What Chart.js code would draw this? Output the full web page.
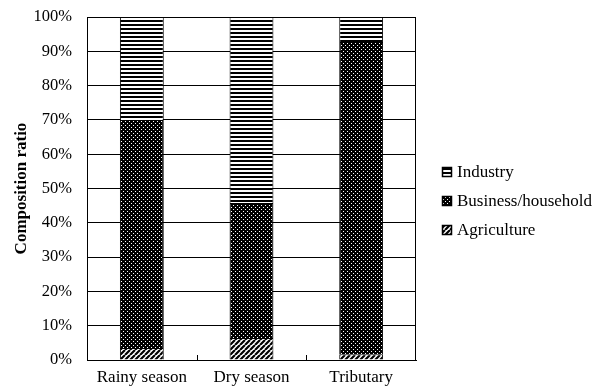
<!DOCTYPE html>
<html>
<head>
<meta charset="utf-8">
<script src="https://cdn.jsdelivr.net/npm/chart.js@4"></script>
<style>
  html, body { margin: 0; padding: 0; background: #fff; }
  #chart { display: block; }
</style>
</head>
<body>
<canvas id="chart" width="595" height="388"></canvas>
<script>
// Categories and series (percent of total)
const categories = ["Rainy season", "Dry season", "Tributary"];
const agriculture = [3.5, 6.4, 1.7];
const business = [66.5, 39.4, 91.0];
const industry = [30.0, 54.2, 7.3];
const yTicks = [0, 10, 20, 30, 40, 50, 60, 70, 80, 90, 100];

const FONT = "'Liberation Serif', 'Times New Roman', serif";

// ---- fill patterns ----
function makePattern(size, draw) {
  const c = document.createElement("canvas");
  c.width = size;
  c.height = size;
  const g = c.getContext("2d");
  draw(g, size);
  return g.createPattern(c, "repeat");
}

const ctx = document.getElementById("chart").getContext("2d");

// horizontal stripes
const stripePattern = makePattern(4, (g, s) => {
  g.fillStyle = "#fff";
  g.fillRect(0, 0, s, s);
  g.fillStyle = "#000";
  g.fillRect(0, 0, s, 2);
});

// dark with white dots
const dotPattern = makePattern(4, (g, s) => {
  g.fillStyle = "#000";
  g.fillRect(0, 0, s, s);
  g.fillStyle = "#fff";
  g.fillRect(1, 1, 1, 1);
  g.fillRect(3, 3, 1, 1);
});

// diagonal hatch
const hatchPattern = makePattern(5, (g, s) => {
  g.fillStyle = "#fff";
  g.fillRect(0, 0, s, s);
  g.strokeStyle = "#000";
  g.lineWidth = 2.2;
  g.beginPath();
  for (let k = -s; k <= 2 * s; k += s) {
    g.moveTo(k, s);
    g.lineTo(k + s, 0);
  }
  g.stroke();
});

// frame around the plot area + small inward ticks between categories
const framePlugin = {
  id: "frame",
  afterDatasetsDraw(chart) {
    const { ctx, chartArea: a, scales } = chart;
    const x = scales.x;
    ctx.save();
    ctx.strokeStyle = "#000";
    ctx.lineWidth = 1;
    ctx.strokeRect(a.left + 0.5, a.top + 0.5, a.right - a.left - 1, a.bottom - a.top);
    ctx.beginPath();
    for (let i = 1; i < categories.length; i++) {
      const px = Math.round((x.getPixelForTick(i) + x.getPixelForTick(i - 1)) / 2) + 0.5;
      ctx.moveTo(px, a.bottom);
      ctx.lineTo(px, a.bottom - 5);
    }
    ctx.stroke();
    ctx.restore();
  }
};

// legend to the right of the plot, top series first
const sideLegend = {
  id: "sideLegend",
  afterDraw(chart) {
    const { ctx, chartArea: a } = chart;
    const sets = chart.data.datasets.slice().reverse();
    const x0 = a.right + 26;
    const y0 = 172;
    const step = 29;
    ctx.save();
    ctx.font = "17px " + FONT;
    ctx.textBaseline = "middle";
    ctx.fillStyle = "#000";
    sets.forEach((ds, i) => {
      const cy = y0 + i * step;
      ctx.fillStyle = ds.backgroundColor;
      ctx.fillRect(x0, cy - 5, 10, 10);
      ctx.strokeStyle = "#000";
      ctx.lineWidth = 1.5;
      ctx.strokeRect(x0 + 0.5, cy - 4.5, 9, 9);
      ctx.fillStyle = "#000";
      ctx.fillText(ds.label, x0 + 15, cy + 1);
    });
    ctx.restore();
  }
};

new Chart(ctx, {
  type: "bar",
  data: {
    labels: categories,
    datasets: [
      { label: "Agriculture", data: agriculture, backgroundColor: hatchPattern },
      { label: "Business/household", data: business, backgroundColor: dotPattern },
      { label: "Industry", data: industry, backgroundColor: stripePattern }
    ]
  },
  options: {
    responsive: false,
    animation: false,
    layout: { padding: { top: 17, right: 179, bottom: 0, left: 13 } },
    datasets: {
      bar: {
        borderColor: "#000",
        borderWidth: 1,
        categoryPercentage: 1,
        barPercentage: 0.4
      }
    },
    scales: {
      x: {
        stacked: true,
        grid: { display: false },
        border: { color: "#000" },
        ticks: { color: "#000", font: { family: FONT, size: 17 }, padding: -1 },
        afterFit(scale) {
          scale.height = 28;
          scale.paddingLeft = 0;
          scale.paddingRight = 0;
        }
      },
      y: {
        stacked: true,
        min: 0,
        max: 100,
        afterBuildTicks(scale) {
          scale.ticks = yTicks.map(v => ({ value: v }));
        },
        afterFit(scale) {
          scale.width = 74;
          scale.paddingTop = 0;
          scale.paddingBottom = 0;
        },
        grid: { color: "#000", drawTicks: false },
        border: { color: "#000" },
        ticks: {
          color: "#000",
          font: { family: FONT, size: 16.5 },
          padding: 15,
          callback: v => v + "%"
        },
        title: {
          display: true,
          text: "Composition ratio",
          color: "#000",
          font: { family: FONT, size: 17, weight: "bold", lineHeight: 1 },
          padding: { top: 0, bottom: 4 }
        }
      }
    },
    plugins: {
      legend: { display: false },
      tooltip: { enabled: false }
    }
  },
  plugins: [framePlugin, sideLegend]
});
</script>
</body>
</html>
